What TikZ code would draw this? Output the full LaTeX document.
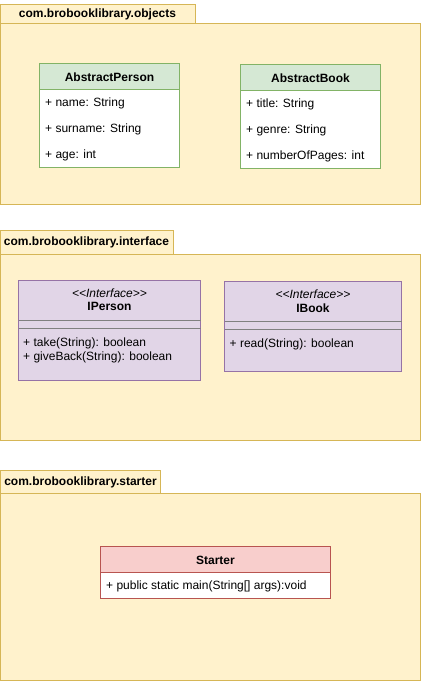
\documentclass[tikz,border=0pt]{standalone}
\usepackage{fontspec}
\setmainfont{Liberation Sans}
\usepackage{tikz}
\definecolor{PkgFill}{HTML}{FFF2CC}
\definecolor{PkgLine}{HTML}{D6B656}
\definecolor{GFill}{HTML}{D5E8D4}
\definecolor{GLine}{HTML}{82B366}
\definecolor{PFill}{HTML}{E1D5E7}
\definecolor{PLine}{HTML}{9673A6}
\definecolor{RFill}{HTML}{F8CECC}
\definecolor{RLine}{HTML}{B85450}
\tikzset{
  pkg/.style={draw=PkgLine, fill=PkgFill, line width=1pt},
  pkgtitle/.style={inner sep=0pt, yshift=-0.8pt, font=\fontsize{12}{14}\selectfont\bfseries},
  clsname/.style={inner sep=0pt, yshift=-0.8pt, font=\fontsize{12}{14}\selectfont\bfseries},
  stereo/.style={inner sep=0pt, yshift=-0.8pt, font=\fontsize{12}{14}\selectfont\itshape},
  member/.style={inner sep=0pt, yshift=-0.8pt, anchor=west, font=\fontsize{12}{14}\selectfont}
}

\begin{document}
\begin{tikzpicture}[x=1pt, y=-1pt]
  \useasboundingbox (0,0) rectangle (421,681);

  \draw[pkg] (0.5,4) rectangle (195,23.5);
  \draw[pkg] (0.5,23.5) rectangle (420.5,204.5);
  \node[pkgtitle] (objTitle) at (97.5,14) {com.brobooklibrary.objects};

  \draw[draw=GLine, fill=GFill, line width=1pt] (39.5,63.5) rectangle (179.5,89.5);
  \draw[draw=GLine, fill=white, line width=1pt] (39.5,89.5) rectangle (179.5,167);
  \node[clsname] (personName) at (109.5,76.5) {AbstractPerson};
  \node[member] (personA) at (45,102.5) {+ name: String};
  \node[member] (personB) at (45,128.5) {+ surname: String};
  \node[member] (personC) at (45,154.5) {+ age: int};

  \draw[draw=GLine, fill=GFill, line width=1pt] (240.5,64.5) rectangle (380.5,90.5);
  \draw[draw=GLine, fill=white, line width=1pt] (240.5,90.5) rectangle (380.5,168);
  \node[clsname] (bookName) at (310.5,77.5) {AbstractBook};
  \node[member] (bookA) at (246,103.5) {+ title: String};
  \node[member] (bookB) at (246,129.5) {+ genre: String};
  \node[member] (bookC) at (246,155.5) {+ numberOfPages: int};

  \draw[pkg] (0.5,230.5) rectangle (173.5,254.5);
  \draw[pkg] (0.5,254.5) rectangle (420.5,440);
  \node[pkgtitle] (ifTitle) at (86.5,242) {com.brobooklibrary.interface};

  \draw[draw=PLine, fill=PFill, line width=1pt] (18.5,280.5) rectangle (200.5,380);
  \draw[gray, line width=1pt] (18.5,320.5) -- (200.5,320.5);
  \draw[gray, line width=1pt] (18.5,328.5) -- (200.5,328.5);
  \node[stereo] (ipersonSt) at (109.5,292) {{<}{<}Interface{>}{>}};
  \node[clsname] (ipersonName) at (109.5,306) {IPerson};
  \node[member] (ipersonA) at (23,343) {+ take(String): boolean};
  \node[member] (ipersonB) at (23,356.5) {+ giveBack(String): boolean};

  \draw[draw=PLine, fill=PFill, line width=1pt] (224.5,281.5) rectangle (401.5,371);
  \draw[gray, line width=1pt] (224.5,321.5) -- (401.5,321.5);
  \draw[gray, line width=1pt] (224.5,329.5) -- (401.5,329.5);
  \node[stereo] (ibookSt) at (313,293) {{<}{<}Interface{>}{>}};
  \node[clsname] (ibookName) at (313,307.5) {IBook};
  \node[member] (ibookA) at (229.5,343.5) {+ read(String): boolean};

  \draw[pkg] (0.5,470.5) rectangle (160.5,493.5);
  \draw[pkg] (0.5,493.5) rectangle (420.5,680);
  \node[pkgtitle] (startTitle) at (80.5,482) {com.brobooklibrary.starter};

  \draw[draw=RLine, fill=RFill, line width=1pt] (100.5,546.5) rectangle (330.5,572.5);
  \draw[draw=RLine, fill=white, line width=1pt] (100.5,572.5) rectangle (330.5,598.5);
  \node[clsname] (starterName) at (215.5,560) {Starter};
  \node[member] (starterA) at (106,585.5) {+ public static main(String[] args):void};
\end{tikzpicture}
\end{document}
